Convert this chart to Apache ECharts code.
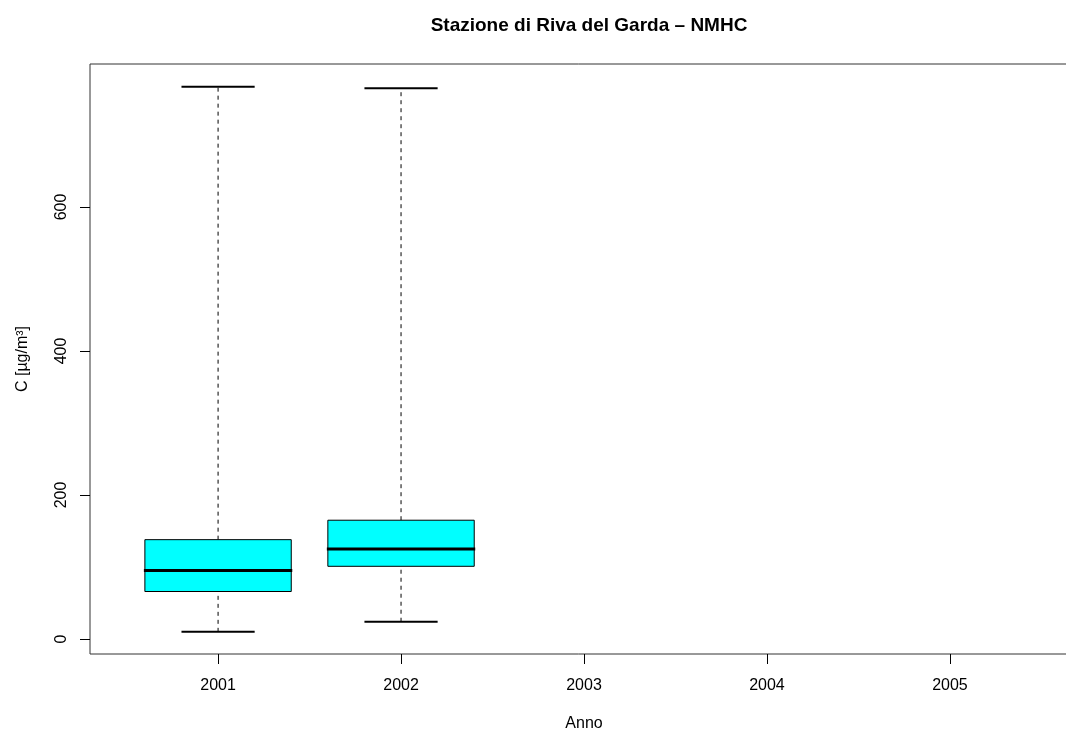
<!DOCTYPE html>
<html>
<head>
<meta charset="utf-8">
<script src="https://cdn.jsdelivr.net/npm/echarts@6/dist/echarts.min.js"></script>
<style>html,body{margin:0;padding:0;background:#fff}#c{width:1066px;height:731px}</style>
</head>
<body>
<div id="c"></div>
<script>
const years = ['2001', '2002', '2003', '2004', '2005'];
const lowWhisker = [10, 24, null, null, null];
const q1 = [66, 101, null, null, null];
const median = [95, 125, null, null, null];
const q3 = [138, 165, null, null, null];
const highWhisker = [767, 765, null, null, null];
const yTicks = [0, 200, 400, 600];

const data = [];
for (let i = 0; i < years.length; i++) {
  if (median[i] == null) continue;
  data.push([i + 1, lowWhisker[i], q1[i], median[i], q3[i], highWhisker[i]]);
}

const chart = echarts.init(document.getElementById('c'));
const font = 'Liberation Sans, Arial, sans-serif';
chart.setOption({
  animation: false,
  backgroundColor: '#fff',
  title: {
    text: 'Stazione di Riva del Garda – NMHC',
    left: 584, top: 11, textAlign: 'center',
    textStyle: { fontFamily: font, fontSize: 19, fontWeight: 'bold', color: '#000' }
  },
  grid: { left: 90, top: 64, right: -12, bottom: 77, containLabel: false, outerBoundsMode: 'none',
    show: true, borderColor: '#333', borderWidth: 1, backgroundColor: 'transparent' },
  xAxis: {
    type: 'value', min: 0.3, max: 5.7,
    name: 'Anno', nameLocation: 'middle', nameGap: 62,
    nameTextStyle: { fontFamily: font, fontSize: 16, color: '#000' },
    axisLine: { show: false, onZero: false },
    splitLine: { show: false },
    axisTick: { show: true, length: 10, customValues: [1, 2, 3, 4, 5], lineStyle: { color: '#000' } },
    axisLabel: { customValues: [1, 2, 3, 4, 5], margin: 24, fontFamily: font, fontSize: 16, color: '#000',
      formatter: v => years[Math.round(v) - 1] }
  },
  yAxis: {
    type: 'value', min: -20.8, max: 798.6,
    name: 'C [µg/m³]', nameLocation: 'middle', nameGap: 59, nameRotate: 90,
    nameTextStyle: { fontFamily: font, fontSize: 16, color: '#000' },
    axisLine: { show: false, onZero: false },
    splitLine: { show: false },
    axisTick: { show: true, length: 10, customValues: yTicks, lineStyle: { color: '#000' } },
    axisLabel: { customValues: yTicks, rotate: 90, margin: 20, fontFamily: font, fontSize: 16, color: '#000' }
  },
  series: [{
    type: 'custom',
    data: data,
    renderItem: function (params, api) {
      const x = api.value(0);
      const lo = api.value(1), a = api.value(2), m = api.value(3), b = api.value(4), hi = api.value(5);
      const half = 0.4, capHalf = 0.2;
      const pLoL = api.coord([x - capHalf, lo]), pLoR = api.coord([x + capHalf, lo]);
      const pHiL = api.coord([x - capHalf, hi]), pHiR = api.coord([x + capHalf, hi]);
      const pc = api.coord([x, 0]);
      const yLo = api.coord([x, lo])[1], yA = api.coord([x, a])[1], yM = api.coord([x, m])[1], yB = api.coord([x, b])[1], yHi = api.coord([x, hi])[1];
      const xl = api.coord([x - half, 0])[0], xr = api.coord([x + half, 0])[0];
      return {
        type: 'group',
        children: [
          { type: 'line', shape: { x1: pc[0], y1: yB, x2: pc[0], y2: yHi }, style: { stroke: '#000', lineWidth: 1, lineDash: [4, 4] } },
          { type: 'line', shape: { x1: pc[0], y1: yLo, x2: pc[0], y2: yA }, style: { stroke: '#000', lineWidth: 1, lineDash: [4, 4] } },
          { type: 'line', shape: { x1: pHiL[0], y1: yHi, x2: pHiR[0], y2: yHi }, style: { stroke: '#000', lineWidth: 2 } },
          { type: 'line', shape: { x1: pLoL[0], y1: yLo, x2: pLoR[0], y2: yLo }, style: { stroke: '#000', lineWidth: 2 } },
          { type: 'rect', shape: { x: xl, y: yB, width: xr - xl, height: yA - yB }, style: { fill: '#00FFFF', stroke: '#000', lineWidth: 1 } },
          { type: 'line', shape: { x1: xl - 1, y1: yM, x2: xr + 1, y2: yM }, style: { stroke: '#000', lineWidth: 3 } }
        ]
      };
    }
  }]
});
</script>
</body>
</html>
